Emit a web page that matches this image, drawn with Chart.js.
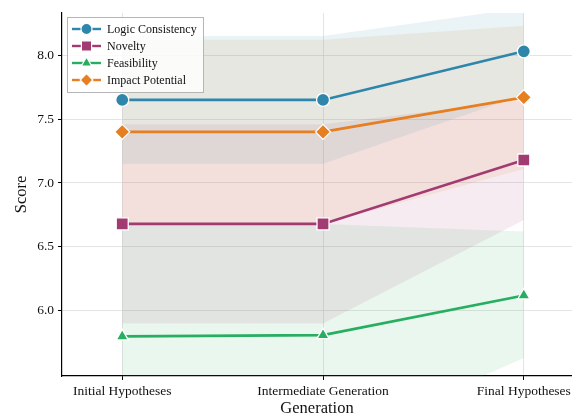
<!DOCTYPE html>
<html>
<head>
<meta charset="utf-8">
<script src="https://cdn.jsdelivr.net/npm/chart.js@4.4.1/dist/chart.umd.min.js"></script>
<style>
  body { margin: 0; background: #fff; }
</style>
</head>
<body>
<canvas id="scoreChart" width="572" height="419"></canvas>
<script>
// Data
const categories = ['Initial Hypotheses', 'Intermediate Generation', 'Final Hypotheses'];
const yTicks = [6.0, 6.5, 7.0, 7.5, 8.0];

const logic = [7.65, 7.65, 8.03];
const logicLow = [7.15, 7.15, 7.69];
const logicHigh = [8.15, 8.15, 8.37];

const novelty = [6.68, 6.68, 7.18];
const noveltyLow = [5.90, 5.90, 6.71];
const noveltyHigh = [7.46, 7.46, 7.65];

const feasibility = [5.80, 5.81, 6.12];
const feasibilityLow = [4.92, 4.94, 5.63];
const feasibilityHigh = [6.68, 6.68, 6.62];

const impact = [7.40, 7.40, 7.67];
const impactLow = [6.68, 6.68, 7.11];
const impactHigh = [8.12, 8.12, 8.23];

const series = [
  { label: 'Logic Consistency', color: '#2E86AB', rgb: '46,134,171', mean: logic, low: logicLow, high: logicHigh, style: 'circle', radius: 6.5 },
  { label: 'Novelty', color: '#A23B72', rgb: '162,59,114', mean: novelty, low: noveltyLow, high: noveltyHigh, style: 'rect', radius: 8.5 },
  { label: 'Feasibility', color: '#27AE60', rgb: '39,174,96', mean: feasibility, low: feasibilityLow, high: feasibilityHigh, style: 'triangle', radius: 7 },
  { label: 'Impact Potential', color: '#E67E22', rgb: '230,126,34', mean: impact, low: impactLow, high: impactHigh, style: 'rectRot', radius: 7.5 }
];

const serif = '"Liberation Serif", serif';
const toPoints = arr => arr.map((v, i) => ({ x: i, y: v }));

// bands first (drawn behind), then lines
const datasets = [];
series.forEach(s => {
  const lowIndex = datasets.length;
  datasets.push({
    label: s.label + ' low',
    data: toPoints(s.low), borderWidth: 0, pointRadius: 0, fill: false, order: 10
  });
  datasets.push({
    label: s.label + ' high',
    data: toPoints(s.high), borderWidth: 0, pointRadius: 0,
    fill: { target: lowIndex }, backgroundColor: 'rgba(' + s.rgb + ',0.1)', order: 10
  });
});
series.forEach(s => {
  datasets.push({
    label: s.label,
    data: toPoints(s.mean),
    borderColor: s.color,
    borderWidth: 2.6,
    backgroundColor: s.color,
    pointStyle: s.style,
    pointRadius: s.radius,
    pointBackgroundColor: s.color,
    pointBorderColor: '#ffffff',
    pointBorderWidth: 1.3,
    fill: false,
    order: 1
  });
});

// legend inside the plot, line + marker like the original
const innerLegend = {
  id: 'innerLegend',
  afterDraw(chart) {
    const ctx = chart.ctx;
    const x0 = 67, y0 = 17, w = 136, h = 75;
    ctx.save();
    ctx.fillStyle = 'rgba(255,255,255,0.85)';
    ctx.strokeStyle = '#b5b5b5';
    ctx.lineWidth = 1;
    ctx.fillRect(x0, y0, w, h);
    ctx.strokeRect(x0 + 0.5, y0 + 0.5, w, h);
    series.forEach((s, i) => {
      const y = 29 + i * 17;
      ctx.strokeStyle = s.color;
      ctx.lineWidth = 2.4;
      ctx.beginPath();
      ctx.moveTo(72, y);
      ctx.lineTo(101, y);
      ctx.stroke();
      ctx.fillStyle = s.color;
      ctx.strokeStyle = '#ffffff';
      ctx.lineWidth = 1.2;
      Chart.helpers.drawPoint(ctx, { pointStyle: s.style, radius: s.radius * 0.85, borderWidth: 1.2, rotation: 0 }, 86.5, y);
      ctx.fillStyle = '#111';
      ctx.font = '12px ' + serif;
      ctx.textBaseline = 'middle';
      ctx.fillText(s.label, 107, y + 0.5);
    });
    ctx.restore();
  }
};

const gridStyle = {
  color: '#dddddd',
  lineWidth: 0.8,
  borderDash: [3, 2],
  drawTicks: true,
  tickLength: 4,
  tickColor: '#000',
  tickWidth: 1,
  tickBorderDash: []
};

new Chart(document.getElementById('scoreChart').getContext('2d'), {
  type: 'line',
  data: { datasets: datasets },
  plugins: [innerLegend],
  options: {
    responsive: false,
    animation: false,
    devicePixelRatio: 1,
    layout: { autoPadding: false, padding: { top: 13, right: 0, left: 0, bottom: 0 } },
    plugins: {
      legend: { display: false },
      tooltip: { enabled: false },
      filler: { propagate: false }
    },
    scales: {
      x: {
        type: 'linear',
        min: -0.3,
        max: 2.24,
        afterBuildTicks: scale => { scale.ticks = categories.map((c, i) => ({ value: i })); },
        afterFit: scale => { scale.height = 43; scale.paddingRight = 0; scale.paddingLeft = 0; },
        ticks: {
          callback: v => categories[v],
          color: '#111',
          font: { family: serif, size: 13.5 },
          padding: 3,
          maxRotation: 0,
          autoSkip: false
        },
        grid: gridStyle,
        border: { display: true, color: '#000', width: 1.2 },
        title: {
          display: true,
          text: 'Generation',
          color: '#111',
          font: { family: serif, size: 16.5 },
          padding: { top: 3, bottom: 0 }
        }
      },
      y: {
        min: 5.49,
        max: 8.33,
        afterBuildTicks: scale => { scale.ticks = yTicks.map(v => ({ value: v })); },
        afterFit: scale => { scale.width = 62; },
        ticks: {
          callback: v => v.toFixed(1),
          color: '#111',
          font: { family: serif, size: 13.5 },
          padding: 4
        },
        grid: gridStyle,
        border: { display: true, color: '#000', width: 1.2 },
        title: {
          display: true,
          text: 'Score',
          color: '#111',
          font: { family: serif, size: 16.5 },
          padding: { top: 12, bottom: 0 }
        }
      }
    }
  }
});
</script>
</body>
</html>
